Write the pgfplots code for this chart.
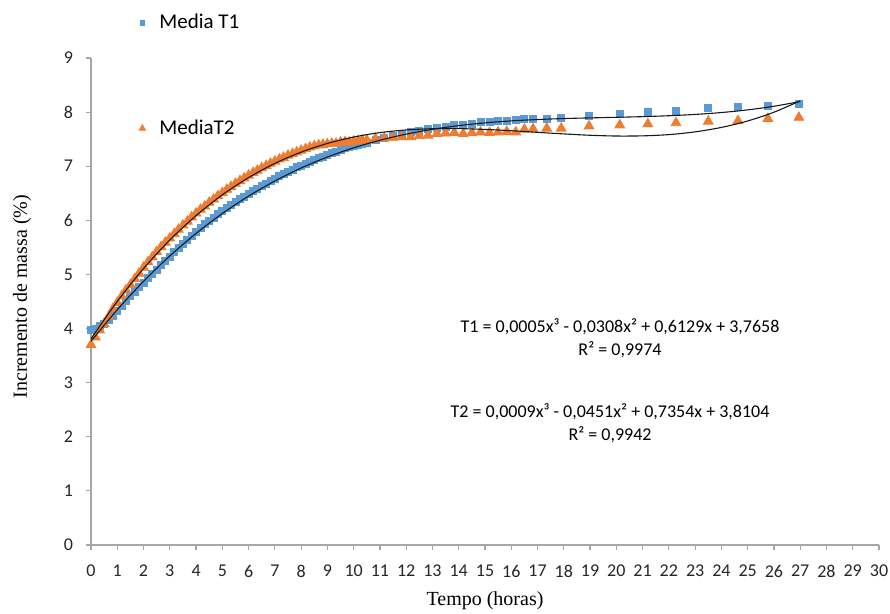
\documentclass[border=0pt]{standalone}
\usepackage{fontspec}
\setmainfont{Carlito}
\newfontfamily\timesf{Liberation Serif}
\usepackage{pgfplots}
\pgfplotsset{compat=1.18}
\usepackage{pgfplotstable}
\definecolor{tblue}{HTML}{5B9BD5}
\definecolor{torange}{HTML}{ED7D31}
\definecolor{axgray}{HTML}{A6A6A6}

\pgfplotstableread{
t T1 T2
0 3.97 3.70
0.17 4.00 3.84
0.33 4.04 3.97
0.5 4.09 4.09
0.67 4.16 4.22
0.83 4.24 4.36
1 4.33 4.48
1.17 4.42 4.60
1.33 4.51 4.71
1.5 4.60 4.81
1.67 4.68 4.92
1.83 4.77 5.02
2 4.85 5.13
2.17 4.93 5.23
2.33 5.01 5.32
2.5 5.09 5.42
2.67 5.17 5.51
2.83 5.25 5.59
3 5.33 5.67
3.17 5.41 5.75
3.33 5.49 5.83
3.5 5.56 5.91
3.67 5.63 5.98
3.83 5.71 6.06
4 5.79 6.13
4.17 5.86 6.20
4.33 5.93 6.26
4.5 5.99 6.33
4.67 6.05 6.39
4.83 6.11 6.45
5 6.17 6.51
5.17 6.23 6.57
5.33 6.28 6.62
5.5 6.34 6.68
5.67 6.39 6.73
5.83 6.44 6.78
6 6.49 6.83
6.17 6.54 6.88
6.33 6.59 6.92
6.5 6.64 6.97
6.67 6.68 7.01
6.83 6.73 7.05
7 6.77 7.09
7.17 6.82 7.13
7.33 6.86 7.16
7.5 6.90 7.20
7.67 6.94 7.23
7.83 6.98 7.26
8 7.01 7.29
8.17 7.05 7.32
8.33 7.08 7.35
8.5 7.12 7.37
8.67 7.15 7.39
8.83 7.18 7.40
9 7.21 7.41
9.17 7.24 7.42
9.33 7.27 7.42
9.5 7.30 7.44
9.67 7.33 7.45
9.83 7.35 7.44
10 7.38 7.46
10.17 7.40 7.47
10.33 7.42 7.48
10.5 7.44 7.48
10.83 7.48 7.51
11.17 7.52 7.52
11.5 7.56 7.53
11.83 7.60 7.54
12.17 7.63 7.54
12.5 7.66 7.56
12.83 7.69 7.57
13.17 7.71 7.60
13.5 7.73 7.61
13.83 7.76 7.62
14.17 7.77 7.60
14.5 7.79 7.62
14.83 7.81 7.63
15.17 7.82 7.62
15.5 7.83 7.63
15.83 7.84 7.64
16.17 7.86 7.63
16.5 7.87 7.68
16.83 7.88 7.69
17.35 7.88 7.70
17.9 7.89 7.70
18.96 7.93 7.74
20.13 7.96 7.76
21.2 8.00 7.78
22.27 8.03 7.80
23.5 8.07 7.83
24.63 8.09 7.84
25.77 8.12 7.88
26.95 8.15 7.90
}\mdata

\pgfplotstableread{
t L1 L2
0 3.766 3.810
1 4.348 4.502
2 4.873 5.108
3 5.342 5.635
4 5.758 6.087
5 6.126 6.471
6 6.448 6.790
7 6.727 7.052
8 6.967 7.260
9 7.170 7.421
10 7.340 7.539
11 7.480 7.621
12 7.593 7.670
13 7.682 7.693
14 7.750 7.695
15 7.801 7.680
16 7.838 7.656
17 7.863 7.626
18 7.881 7.597
19 7.893 7.572
20 7.904 7.558
21 7.916 7.561
22 7.933 7.584
23 7.957 7.635
24 7.992 7.717
25 8.041 7.836
26 8.108 7.998
27 8.195 8.208
}\trend

\begin{document}
\begin{tikzpicture}
\begin{axis}[
  at={(0pt,0pt)}, anchor=south west,
  width=394pt, height=243.5pt, scale only axis,
  xmin=0, xmax=30, ymin=0, ymax=9,
  xtick={0,1,...,30}, ytick={0,1,...,9},
  axis x line=bottom, axis y line=left,
  axis line style={-, draw=axgray, line width=0.6pt},
  tick style={draw=axgray, line width=0.6pt},
  tick align=outside, major tick length=2.5pt,
  ticklabel style={font=\fontsize{9}{10}\selectfont, text=black!85},
  /pgf/number format/assume math mode=true,
  xticklabel style={yshift=-4pt},
  yticklabel style={xshift=-3pt},
  xlabel={\timesf Tempo (horas)},
  ylabel={\timesf Incremento de massa (\%)},
  label style={font=\fontsize{10}{12}\selectfont},
  xlabel style={at={(axis description cs:0.5,-0.115)}, anchor=center},
  ylabel style={at={(axis description cs:-0.0876,0.51)}, anchor=center, rotate=0},
  clip=false,
  clip marker paths=true,
  legend style={at={(axis description cs:0.0431,0.964)}, anchor=west,
    draw=none, fill=none, font=\fontsize{10.5}{12}\selectfont,
    row sep=44pt, inner sep=0pt, nodes={inner sep=0pt}},
  legend cell align=left,
  legend image code/.code={\path[draw=none,fill=none] (0pt,-2pt) rectangle (17pt,2pt); \draw[#1] plot coordinates {(8.5pt,0pt)};},
]
\addlegendimage{only marks, mark=square*, mark size=1.1pt, color=tblue, mark options={draw=none}}
\addlegendimage{only marks, mark=triangle*, mark size=1.8pt, color=torange, mark options={draw=none}}
\legend{Media T1, MediaT2}

\addplot[only marks, mark=square*, mark size=1.75pt, color=tblue, mark options={draw=none}, forget plot] table[x=t, y=T1] {\mdata};
\addplot[only marks, mark=triangle*, mark size=2.8pt, color=torange, mark options={draw=none}, forget plot] table[x=t, y=T2] {\mdata};

\addplot[black!90, line width=0.55pt, smooth, no marks, forget plot] table[x=t, y=L1] {\trend};
\addplot[black!90, line width=0.55pt, smooth, no marks, forget plot] table[x=t, y=L2] {\trend};

\node[align=center, font=\fontsize{9}{11.5}\selectfont] at (axis cs:20.14,3.82) {T1 = 0,0005x³ - 0,0308x² + 0,6129x + 3,7658\\R² = 0,9974};
\node[align=center, font=\fontsize{9}{11.5}\selectfont] at (axis cs:19.76,2.25) {T2 = 0,0009x³ - 0,0451x² + 0,7354x + 3,8104\\R² = 0,9942};
\end{axis}
\pgfresetboundingbox
\path (-45.5pt,-34.5pt) rectangle (399.5pt,272.5pt);
\end{tikzpicture}
\end{document}
